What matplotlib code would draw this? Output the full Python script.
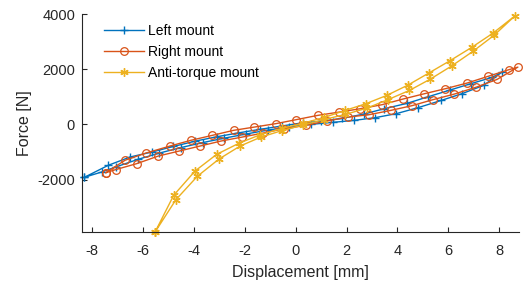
import matplotlib
matplotlib.use("Agg")
import matplotlib.pyplot as plt

plt.rcParams['font.family'] = ['Liberation Sans', 'DejaVu Sans']

# Left mount (blue, +): loading branch then unloading branch
left_up_x = [-8.30, -7.36, -6.50, -5.65, -4.80, -3.95, -3.10, -2.25, -1.40, -0.55, 0.30, 1.00, 1.82, 2.67, 3.48, 4.37, 5.20, 6.05, 6.90, 7.71, 8.10]
left_up_y = [-1920, -1484, -1183, -1003, -800, -610, -450, -310, -180, -60, 60, 110, 217, 370, 567, 760, 1000, 1240, 1480, 1700, 1890]
left_dn_x = [8.10, 7.38, 6.53, 5.72, 4.80, 3.95, 3.12, 2.30, 1.45, 0.60, -0.25, -1.10, -1.95, -2.80, -3.65, -4.50, -5.35, -6.20, -7.05, -7.62, -8.30]
left_dn_y = [1890, 1412, 1111, 868, 603, 387, 242, 145, 72, 0, -90, -210, -350, -500, -660, -840, -1040, -1270, -1540, -1727, -1920]

# Right mount (red, o)
right_up_x = [-7.45, -6.70, -5.88, -4.93, -4.12, -3.27, -2.44, -1.62, -0.78, 0.02, 0.87, 1.72, 2.54, 3.39, 4.21, 5.06, 5.88, 6.73, 7.55, 8.37, 8.73]
right_up_y = [-1750, -1300, -1040, -785, -579, -398, -217, -98, 25, 170, 326, 447, 567, 712, 916, 1111, 1292, 1496, 1738, 1980, 2075]
right_dn_x = [8.73, 7.91, 7.10, 6.23, 5.39, 4.57, 3.74, 2.89, 2.05, 1.23, 0.40, -0.44, -1.27, -2.09, -2.93, -3.75, -4.57, -5.39, -6.24, -7.07, -7.45]
right_dn_y = [2075, 1629, 1350, 1097, 894, 677, 507, 351, 264, 121, -36, -156, -314, -459, -604, -785, -966, -1147, -1423, -1640, -1750]

# Anti-torque mount (yellow, *)
anti_up_x = [-5.52, -4.79, -3.95, -3.10, -2.21, -1.40, -0.55, 0.28, 1.12, 1.95, 2.76, 3.58, 4.41, 5.25, 6.06, 6.91, 7.75, 8.63]
anti_up_y = [-3900, -2570, -1690, -1086, -677, -380, -150, 40, 250, 507, 749, 1050, 1423, 1871, 2306, 2787, 3305, 3946]
anti_dn_x = [8.63, 7.80, 6.96, 6.14, 5.29, 4.47, 3.62, 2.80, 1.95, 1.10, 0.27, -0.55, -1.36, -2.18, -3.01, -3.86, -4.70, -5.52]
anti_dn_y = [3946, 3233, 2643, 2124, 1640, 1231, 894, 590, 360, 170, -30, -230, -460, -785, -1256, -1882, -2726, -3900]

x_ticks = [-8, -6, -4, -2, 0, 2, 4, 6, 8]
y_ticks = [-2000, 0, 2000, 4000]

fig = plt.figure(figsize=(5.26, 2.86), dpi=100)
ax = fig.add_axes([0.156, 0.189, 0.831, 0.762])

c_blue, c_red, c_yel = '#0072BD', '#D95319', '#EDB120'
lw = 1.0

ax.plot(left_up_x + left_dn_x[1:], left_up_y + left_dn_y[1:], color=c_blue, lw=lw,
        marker='+', ms=6, mew=1.0, label='Left mount', clip_on=False)
ax.plot(right_up_x + right_dn_x[1:], right_up_y + right_dn_y[1:], color=c_red, lw=lw,
        marker='o', ms=5.5, mew=0.9, mfc='none', label='Right mount', clip_on=False)
ax.plot(anti_up_x + anti_dn_x[1:], anti_up_y + anti_dn_y[1:], color=c_yel, lw=lw,
        marker=(6, 2, 0), ms=6, mew=1.0, label='Anti-torque mount', clip_on=False)

ax.set_xlim(-8.39, 8.78)
ax.set_ylim(-3900, 4000)
ax.set_xticks(x_ticks)
ax.set_yticks(y_ticks)
ax.set_xticklabels([str(t) for t in x_ticks])
ax.set_yticklabels([str(t) for t in y_ticks])

for s in ['top', 'right']:
    ax.spines[s].set_visible(False)
for s in ['left', 'bottom']:
    ax.spines[s].set_color('#262626')
    ax.spines[s].set_linewidth(0.8)
ax.tick_params(direction='in', length=3.5, width=0.8, colors='#262626', labelsize=10.5)
ax.tick_params(axis='x', pad=9)
ax.tick_params(axis='y', pad=5)

ax.set_xlabel('Displacement [mm]', fontsize=11.5, color='#262626', labelpad=5)
ax.set_ylabel('Force [N]', fontsize=11.5, color='#262626', labelpad=4)

leg = ax.legend(loc='upper left', frameon=False, fontsize=10, handlelength=2.9,
                handletextpad=0.25, labelspacing=0.5, borderaxespad=0.0,
                bbox_to_anchor=(0.038, 0.98))

fig.savefig('out.png', dpi=100)
